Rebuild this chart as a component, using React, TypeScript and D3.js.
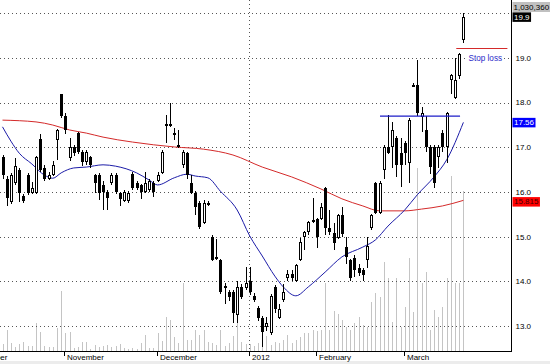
import React from "react";
import * as d3 from "d3";

// daily candles, index 0 = first visible session (mid October 2011)
const opens = [
  16.78, 16.3, 15.78, 16.2, 16.5, 15.92, 16.38, 15.98, 15.98, 17.18,
  16.53, 16.3, 16.38, 17.17, 18.19, 17.7, 16.76, 17.0, 17.32, 16.9,
  16.67, 16.78, 16.38, 16.38, 16.16, 16.0, 16.2, 16.38, 15.98, 15.8,
  15.8, 16.4, 16.2, 16.15, 16.0, 16.05, 16.2, 16.25, 16.42, 17.48,
  17.52, 17.32, 17.05, 16.6, 16.87, 16.2, 15.98, 15.76, 15.3, 15.72,
  15.0, 14.55, 14.48, 13.9, 13.77, 13.77, 13.25, 13.87, 13.85, 14.0,
  13.68, 13.41, 13.18, 12.98, 12.85, 13.87, 13.18, 13.59, 14.08, 14.17,
  14.0, 14.48, 15.0, 15.1, 15.32, 15.4, 15.4, 16.1, 15.2, 15.08,
  14.98, 15.49, 14.77, 14.48, 14.52, 14.3, 14.25, 14.48, 15.2, 16.2,
  15.53, 16.5, 17.0, 17.0, 17.21, 16.87, 17.1, 16.65, 18.38, 18.4,
  17.68, 17.39, 17.0, 17.0, 16.78, 17.32, 17.0, 18.5, 18.1, 18.6,
  19.4,
];
const highs = [
  16.82, 16.35, 16.42, 16.76, 16.55, 15.96, 16.42, 16.22, 16.8, 17.3,
  16.6, 16.45, 16.7, 17.42, 18.2, 17.77, 17.2, 17.05, 17.35, 16.95,
  16.95, 16.8, 16.4, 16.42, 16.25, 16.05, 16.42, 16.42, 16.0, 16.05,
  16.02, 16.45, 16.25, 16.18, 16.45, 16.3, 16.25, 16.45, 16.95, 17.72,
  18.0, 17.43, 17.39, 16.95, 16.9, 16.38, 16.02, 15.8, 15.82, 15.8,
  15.05, 14.95, 14.5, 13.97, 13.82, 13.8, 14.0, 13.95, 14.32, 14.32,
  13.75, 13.45, 13.22, 13.2, 13.72, 13.92, 13.5, 13.95, 14.26, 14.26,
  14.4, 14.98, 15.12, 15.35, 15.87, 15.42, 15.75, 16.12, 15.6, 15.31,
  15.52, 15.67, 15.0, 14.5, 14.6, 14.4, 14.3, 15.0, 15.52, 16.22,
  16.25, 17.05, 17.72, 17.57, 17.25, 17.2, 17.15, 17.65, 18.45, 18.95,
  17.9, 17.7, 17.05, 17.05, 17.05, 17.4, 17.8, 18.64, 19.0, 19.12,
  20.0,
];
const lows = [
  16.3, 15.69, 15.74, 16.15, 15.78, 15.76, 15.94, 15.95, 15.95, 16.45,
  16.25, 16.28, 16.35, 16.72, 17.65, 17.3, 16.7, 16.8, 16.85, 16.58,
  16.6, 16.55, 15.98, 15.82, 15.6, 15.6, 16.15, 15.95, 15.7, 15.78,
  15.76, 16.05, 16.05, 15.85, 15.98, 16.0, 15.9, 16.22, 16.4, 17.1,
  17.45, 17.17, 16.98, 16.55, 16.3, 15.95, 15.49, 15.18, 15.28, 15.7,
  14.45, 14.48, 13.72, 13.5, 13.57, 13.07, 13.07, 13.6, 13.8, 13.7,
  13.55, 13.12, 12.53, 12.9, 12.8, 13.3, 13.15, 13.55, 14.0, 14.0,
  13.98, 14.45, 14.7, 15.05, 15.3, 14.75, 15.38, 15.05, 15.05, 14.71,
  14.95, 15.0, 14.4, 14.0, 14.1, 14.12, 14.0, 14.3, 15.15, 15.5,
  15.5, 16.3, 16.85, 16.55, 16.34, 16.11, 16.6, 16.2, 18.35, 17.7,
  17.35, 16.9, 16.4, 16.1, 16.55, 16.9, 16.65, 18.2, 18.08, 18.53,
  19.33,
];
const closes = [
  16.38, 15.87, 16.38, 16.58, 15.98, 15.8, 15.98, 16.1, 16.78, 16.5,
  16.3, 16.38, 16.6, 17.39, 17.7, 17.4, 17.0, 16.88, 16.9, 16.67,
  16.9, 16.6, 16.2, 15.98, 16.0, 15.87, 16.38, 16.0, 15.84, 16.0,
  15.98, 16.1, 16.1, 16.0, 16.2, 16.25, 16.0, 16.38, 16.9, 17.52,
  17.48, 17.27, 17.0, 16.9, 16.38, 15.98, 15.67, 15.22, 15.76, 15.76,
  14.48, 14.5, 13.77, 13.85, 13.65, 13.3, 13.87, 13.65, 13.97, 13.77,
  13.59, 13.18, 12.87, 13.07, 13.68, 13.38, 13.38, 13.77, 14.17, 14.08,
  14.37, 14.88, 15.1, 15.32, 15.38, 15.0, 15.67, 15.2, 15.1, 14.85,
  15.49, 15.06, 14.55, 14.08, 14.26, 14.2, 14.15, 14.8, 15.49, 15.53,
  16.2, 17.0, 16.87, 17.39, 16.6, 16.6, 16.87, 17.61, 18.4, 17.77,
  17.77, 17.0, 16.56, 16.2, 17.0, 17.0, 17.77, 18.62, 18.5, 19.1,
  19.92,
];
const volumes = [
  45000, 135000, 51500, 25800, 45000, 58000, 32200, 32200, 180000, 122000,
  32200, 25800, 25800, 148000, 386000, 116000, 122000, 19300, 25800, 58000,
  58000, 12900, 38600, 25800, 32200, 38600, 25800, 32200, 45000, 19300,
  12900, 19300, 12900, 51500, 103000, 19300, 19300, 116000, 64400, 219000,
  200000, 90200, 51500, 438000, 70800, 70800, 135000, 103000, 135000, 58000,
  51500, 38600, 135000, 32200, 51500, 96600, 245000, 58000, 45000, 45000,
  32200, 51500, 70800, 96600, 38600, 58000, 51500, 70800, 103000, 51500,
  70800, 90200, 116000, 116000, 135000, 129000, 135000, 438000, 135000, 258000,
  238000, 200000, 155000, 135000, 180000, 219000, 167000, 155000, 316000, 374000,
  348000, 573000, 470000, 187000, 470000, 155000, 283000, 599000, 251000, 1179000,
  438000, 509000, 135000, 264000, 219000, 283000, 470000, 1127000, 438000, 438000,
  1030360,
];

// moving averages (session index -> value)
const fastMaIdx = [0, 2, 4, 7, 10, 12, 14, 17, 20, 24, 27, 32, 35, 37, 41, 44, 46, 49, 52, 56, 59, 62, 65, 67, 70, 73, 77, 81, 86, 89, 92, 96, 99, 103, 106, 110];
const fastMaVal = [17.46, 17.14, 16.87, 16.63, 16.38, 16.31, 16.43, 16.54, 16.56, 16.61, 16.58, 16.43, 16.27, 16.16, 16.32, 16.4, 16.36, 16.32, 16.02, 15.6, 15.02, 14.57, 14.12, 13.88, 13.68, 13.88, 14.21, 14.55, 14.77, 14.93, 15.24, 15.6, 15.94, 16.34, 16.72, 17.56];
const slowMaIdx = [0, 8, 12, 16, 20, 24, 31, 41, 48, 55, 62, 69, 76, 81, 86, 90, 96, 100, 105, 110];
const slowMaVal = [17.61, 17.57, 17.5, 17.39, 17.32, 17.23, 17.12, 17.01, 16.96, 16.83, 16.56, 16.34, 16.07, 15.85, 15.69, 15.58, 15.58, 15.62, 15.69, 15.815];

const monthNames = ["October", "November", "December", "2012", "February", "March"];
const monthIdx = [-6, 15, 37, 59, 75, 96];
const priceTicks = [13, 14, 15, 16, 17, 18, 19, 20];
const priceLabels = [13, 14, 15, 16, 17, 18, 19];

const resistance = { level: 17.7, from: 90.1, to: 109.2 };
const stopLoss = { level: 19.22, from: 108.3, to: 120.5, labelIdx: 111.2, labelLevel: 18.99 };

const FONT = "'Liberation Sans', Arial, sans-serif";

function boxWidth(s: string) {
  let w = 3;
  for (const c of s) w += c === "." || c === "," ? 2.2 : 4.45;
  return w;
}

export default function App() {
  const width = 550;
  const height = 364;
  const axisX = 511.5;
  const bottom = 351;

  const x = d3.scaleLinear().domain([0, 110]).range([2.5, 463.4]);
  const y = d3.scaleLinear().domain([12.445, 20.2975]).range([bottom, 0]);
  const yVol = d3.scaleLinear().domain([0, 2260000]).range([bottom, 0]);

  const px = (i: number) => Math.round(x(i)) + 0.5;

  const maPath = d3
    .line<[number, number]>()
    .x((d) => x(d[0]))
    .y((d) => y(d[1]))
    .curve(d3.curveMonotoneX);
  const fastPath = maPath(fastMaIdx.map((d, k) => [d, fastMaVal[k]] as [number, number]));
  const slowPath = maPath(slowMaIdx.map((d, k) => [d, slowMaVal[k]] as [number, number]));

  const last = closes.length - 1;
  const tags = [
    { text: closes[last].toFixed(1), v: closes[last], bg: "#000", fg: "#fff" },
    { text: fastMaVal[fastMaVal.length - 1].toFixed(2), v: fastMaVal[fastMaVal.length - 1], bg: "#0000ff", fg: "#fff" },
    { text: slowMaVal[slowMaVal.length - 1].toFixed(3), v: slowMaVal[slowMaVal.length - 1], bg: "#ff0000", fg: "#400" },
  ];
  const volText = d3.format(",")(volumes[last]);

  // nudge a value tag away from a tick label it would sit on
  const tagY = (v: number) => {
    let cy = y(v);
    for (const t of priceLabels) {
      const d = cy - y(t);
      if (Math.abs(d) < 9.5) cy = y(t) + (d >= 0 ? 9.5 : -9.5);
    }
    return cy;
  };

  return (
    <svg
      width={width}
      height={height}
      style={{ position: "absolute", left: 0, top: 0, background: "#fff" }}
      fontFamily={FONT}
    >
      <rect x={0} y={0} width={width} height={height} fill="#fff" />
      <rect x={0} y={361} width={width} height={3} fill="#ececec" />

      {/* volume */}
      <g shapeRendering="crispEdges">
        {volumes.map((v, i) => (
          <line key={i} x1={px(i)} x2={px(i)} y1={bottom} y2={yVol(v)} stroke="#c4c4c4" strokeWidth={1} />
        ))}
      </g>

      {/* grid */}
      <g shapeRendering="crispEdges">
        {priceTicks.map((t) => (
          <line
            key={t}
            x1={0}
            x2={axisX - 3}
            y1={Math.round(y(t)) + 0.5}
            y2={Math.round(y(t)) + 0.5}
            stroke="#555"
            strokeDasharray="1,3"
          />
        ))}
        <line x1={px(59) - 1} x2={px(59) - 1} y1={0} y2={bottom} stroke="#555" strokeDasharray="1,3" />
      </g>

      {/* moving averages */}
      <path d={slowPath || ""} fill="none" stroke="#d42a2a" strokeWidth={1} />
      <path d={fastPath || ""} fill="none" stroke="#1c1ca8" strokeWidth={1} />

      {/* candles */}
      <g shapeRendering="crispEdges">
        {closes.map((c, i) => {
          const o = opens[i];
          const cx = px(i);
          const top = Math.round(y(Math.max(o, c)));
          const bot = Math.round(y(Math.min(o, c)));
          const up = c >= o;
          return (
            <g key={i}>
              <line x1={cx} x2={cx} y1={y(highs[i])} y2={y(lows[i])} stroke="#000" strokeWidth={1} />
              {up ? (
                <rect x={cx - 1} y={top + 0.5} width={2} height={Math.max(bot - top - 1, 1)} fill="#fff" stroke="#000" strokeWidth={1} />
              ) : (
                <rect x={cx - 1.5} y={top} width={3} height={Math.max(bot - top, 1)} fill="#000" />
              )}
            </g>
          );
        })}
      </g>

      {/* annotations */}
      <line
        x1={x(resistance.from)}
        x2={x(resistance.to)}
        y1={y(resistance.level)}
        y2={y(resistance.level)}
        stroke="#1c1cc8"
        strokeWidth={1.3}
      />
      <line
        x1={x(stopLoss.from)}
        x2={x(stopLoss.to)}
        y1={Math.round(y(stopLoss.level)) + 0.5}
        y2={Math.round(y(stopLoss.level)) + 0.5}
        stroke="#d42a2a"
        strokeWidth={1}
      />
      <rect x={x(stopLoss.labelIdx) - 1} y={y(stopLoss.labelLevel) - 5} width={35} height={10} fill="#fff" />
      <text x={x(stopLoss.labelIdx)} y={y(stopLoss.labelLevel)} dy="0.35em" fontSize={8.2} fill="#2a2ac8">
        Stop loss
      </text>

      {/* right axis */}
      <line x1={axisX} x2={axisX} y1={0} y2={bottom} stroke="#000" shapeRendering="crispEdges" />
      {priceLabels.map((t) => (
        <text key={t} x={axisX + 4} y={y(t)} dy="0.35em" fontSize={8} fill="#000">
          {t.toFixed(1)}
        </text>
      ))}
      <rect x={axisX + 1} y={2} width={boxWidth(volText)} height={10} fill="#c0c0c0" />
      <text x={axisX + 2} y={7} dy="0.35em" fontSize={8} fill="#000">
        {volText}
      </text>
      {tags.map((t) => (
        <g key={t.text}>
          <rect x={axisX + 1} y={tagY(t.v) - 4.5} width={boxWidth(t.text)} height={9.5} fill={t.bg} />
          <text x={axisX + 2.5} y={tagY(t.v)} dy="0.35em" fontSize={8} fill={t.fg}>
            {t.text}
          </text>
        </g>
      ))}

      {/* bottom axis */}
      <line x1={0} x2={axisX} y1={bottom + 0.5} y2={bottom + 0.5} stroke="#000" shapeRendering="crispEdges" />
      {monthNames.map((m, k) => (
        <g key={m}>
          <line
            x1={px(monthIdx[k]) - 1}
            x2={px(monthIdx[k]) - 1}
            y1={bottom}
            y2={bottom + 5}
            stroke="#000"
            shapeRendering="crispEdges"
          />
          <text x={px(monthIdx[k]) + 1.5} y={bottom + 9} fontSize={8} fill="#000">
            {m}
          </text>
        </g>
      ))}
    </svg>
  );
}
